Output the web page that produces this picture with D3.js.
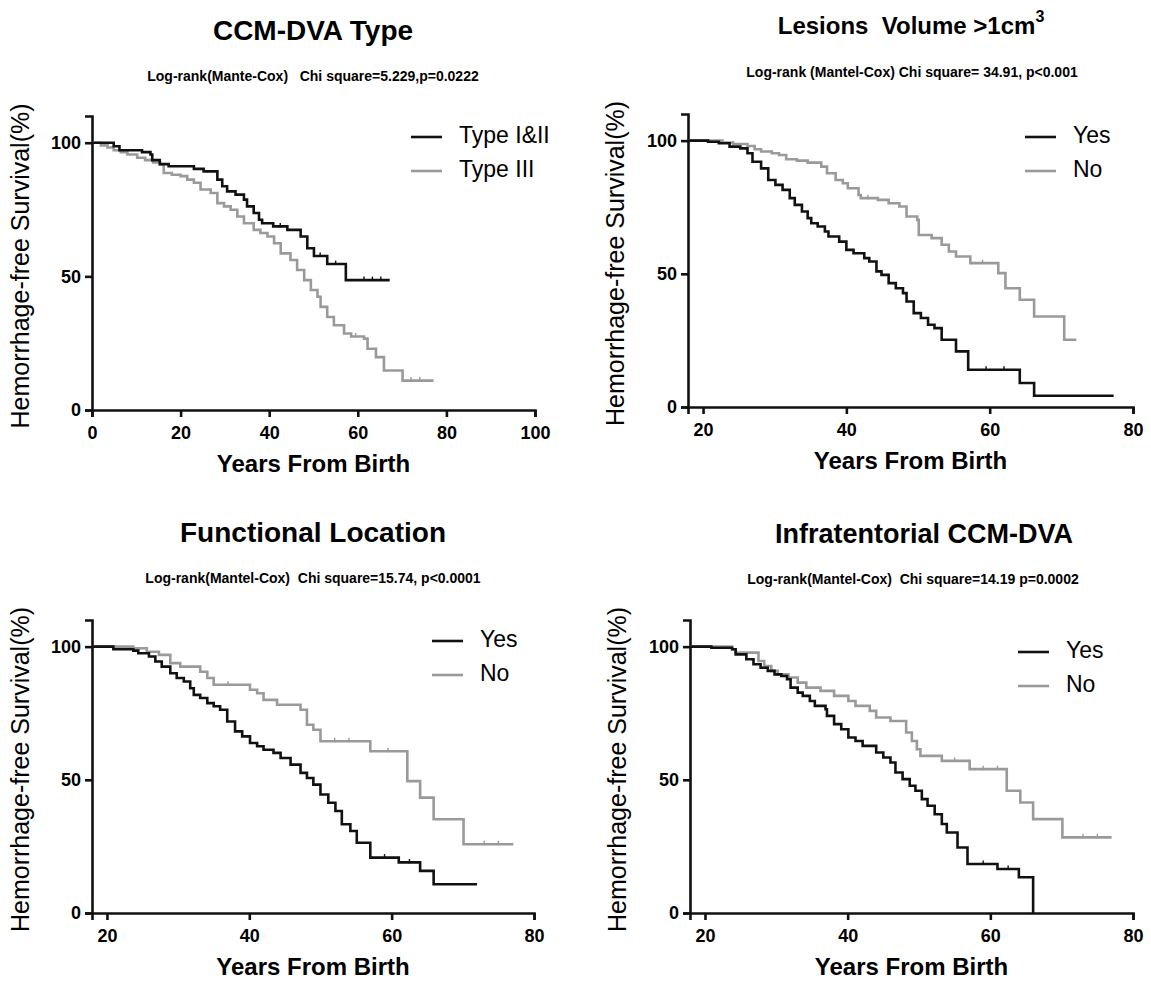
<!DOCTYPE html>
<html>
<head>
<meta charset="utf-8">
<script src="https://cdn.jsdelivr.net/npm/d3@7"></script>
<style>
  html, body { margin: 0; padding: 0; background: #fff; }
  svg { display: block; }
  text { font-family: "Liberation Sans", Arial, sans-serif; fill: #000; white-space: pre; }
</style>
</head>
<body>
<svg id="chart" width="1151" height="984"></svg>
<script>
// ---------------- DATA ----------------
// Each series: [years from birth, hemorrhage-free survival %] step points (last point = end of follow-up)
const p1Title = "CCM-DVA Type";
const p1Stat = "Log-rank(Mante-Cox)   Chi square=5.229,p=0.0222";
const p1Names = ["Type I&II", "Type III"];
const p1TypeI_II = [[0,100],[4.9,98.7],[6.2,97.2],[11.3,96.5],[13.2,95.6],[13.6,93.5],[15.3,92],[17.3,91.2],[23.0,90.2],[25.2,89.3],[28.3,86.2],[29.4,83.7],[30.5,81.8],[32.4,80.6],[34.3,78.7],[35.0,76.2],[36.5,73.7],[37.7,71.2],[38.4,69.9],[40.9,68.7],[44.1,67.4],[47.1,64.9],[48.6,60.5],[50.1,57.6],[53.1,54.6],[57.3,48.6],[67.2,48.6]];
const p1TypeIII = [[0,100],[2.0,99.0],[3.5,98.2],[4.9,97.2],[6.5,96.5],[8.0,95.6],[10.2,94.4],[12.0,93.5],[13.8,92.6],[15.4,91.9],[16.2,88.7],[18.0,88.0],[20.0,87.5],[21.5,86.2],[23.0,85.0],[24.5,82.5],[26.8,81.2],[28.3,77.4],[29.8,76.2],[31.3,74.9],[32.8,72.4],[34.3,69.9],[36.5,67.4],[38.0,66.2],[39.6,64.9],[41.1,62.4],[42.6,58.6],[44.8,56.1],[46.3,52.4],[47.9,48.6],[49.4,44.9],[50.9,42.4],[51.6,38.6],[53.1,34.8],[54.6,31.7],[56.9,28.6],[58.5,27.5],[61.4,26.7],[62.2,22.9],[64.1,19.8],[65.9,14.8],[70.1,11.0],[77.1,11.0]];
const p1TypeI_IICensor = [[42.5,68.7],[51.5,57.6],[55.0,54.6],[61.4,48.6],[63.3,48.6],[65.2,48.6]];
const p1TypeIIICensor = [[59.5,27.5],[72.0,11.0],[74.0,11.0]];

const p2Title = "Lesions  Volume >1cm";
const p2Stat = "Log-rank (Mantel-Cox) Chi square= 34.91, p<0.001";
const p2Names = ["Yes", "No"];
const p2Yes = [[17.9,100],[20.7,99.6],[22.2,99.0],[23.7,97.75],[25.2,97.1],[26.2,95.25],[26.9,92.1],[28.1,89.6],[29.1,85.25],[30.1,83.4],[31.1,81.5],[32.1,78.4],[32.8,75.9],[33.8,73.4],[34.6,70.9],[35.1,69.0],[36.0,67.75],[37.0,65.9],[37.5,64.0],[39.0,62.1],[40.0,59.0],[41.0,57.75],[42.5,55.9],[43.2,54.6],[44.2,50.9],[44.9,49.6],[45.9,46.5],[46.9,44.6],[47.9,42.75],[48.4,39.6],[49.4,35.25],[50.4,33.4],[51.4,30.9],[52.3,29.6],[53.3,25.25],[55.3,20.9],[57.0,14.0],[64.2,9.0],[66.2,4.25],[77.3,4.25]];
const p2No = [[17.9,100],[22.7,99.25],[24.2,98.75],[26.2,98.0],[27.2,96.75],[28.1,95.9],[29.6,95.25],[30.6,94.6],[31.6,93.0],[33.1,92.5],[34.6,91.75],[36.5,90.25],[37.3,87.75],[38.5,85.25],[39.5,84.0],[40.2,82.1],[41.7,79.6],[42.0,78.4],[44.4,77.75],[45.9,76.5],[47.4,75.25],[48.4,71.5],[49.9,70.25],[50.1,64.6],[51.9,63.4],[53.3,60.9],[54.3,58.4],[55.3,56.5],[57.3,54.0],[61.2,50.25],[62.2,44.6],[64.2,40.25],[66.2,34.0],[70.4,25.25],[72.1,25.25]];
const p2YesCensor = [[59.5,14.0],[62.0,14.0]];
const p2NoCensor = [[43.0,78.4],[59.0,54.0]];

const p3Title = "Functional Location";
const p3Stat = "Log-rank(Mantel-Cox)  Chi square=15.74, p<0.0001";
const p3Names = ["Yes", "No"];
const p3Yes = [[17.9,100],[20.9,99.0],[23.7,98.5],[24.4,97.5],[25.9,96.3],[26.8,94.4],[27.7,92.5],[28.9,90.0],[29.8,88.2],[30.8,86.9],[31.7,84.4],[32.2,81.9],[33.1,80.7],[34.1,78.8],[35.0,77.6],[35.9,76.3],[36.9,71.9],[38.0,68.2],[39.0,66.3],[40.1,63.8],[41.1,62.6],[42.0,61.3],[43.4,60.1],[44.4,58.2],[45.8,55.7],[47.2,52.6],[48.1,50.7],[49.0,48.2],[50.0,44.5],[51.1,41.4],[52.1,38.3],[53.0,33.3],[54.2,30.8],[55.1,26.4],[57.0,20.8],[61.0,19.0],[64.0,15.8],[65.9,10.8],[72.0,10.8]];
const p3No = [[17.9,100],[23.7,99.4],[25.6,98.1],[27.3,96.9],[28.9,93.8],[30.3,92.5],[33.1,90.6],[34.1,88.2],[35.0,85.7],[40.1,83.8],[41.1,82.5],[42.0,80.0],[43.9,78.2],[47.2,76.3],[48.1,70.7],[49.0,68.8],[50.0,64.5],[57.0,60.7],[62.2,49.5],[64.0,43.3],[65.9,35.2],[70.1,25.8],[77.1,25.8]];
const p3YesCensor = [[59.0,20.8],[62.5,19.0]];
const p3NoCensor = [[37.0,85.7],[52.0,64.5],[54.0,64.5],[59.5,60.7],[73.0,25.8],[75.0,25.8]];

const p4Title = "Infratentorial CCM-DVA";
const p4Stat = "Log-rank(Mantel-Cox)  Chi square=14.19 p=0.0002";
const p4Names = ["Yes", "No"];
const p4Yes = [[17.9,100],[20.9,99.6],[23.8,99.0],[24.3,97.1],[25.8,95.25],[26.8,93.4],[27.8,92.1],[28.8,90.9],[29.75,89.6],[30.7,89.0],[31.5,87.75],[32.0,84.6],[33.0,82.75],[33.7,81.5],[34.7,79.6],[35.4,77.75],[36.9,76.5],[37.1,74.0],[38.1,70.9],[39.1,69.0],[40.1,65.9],[41.1,64.6],[42.1,62.75],[44.0,60.25],[45.0,58.4],[46.0,56.5],[46.7,52.75],[47.7,50.25],[48.7,47.75],[49.5,45.9],[50.4,42.75],[51.2,40.25],[52.2,37.1],[53.2,33.4],[53.9,30.25],[55.4,24.6],[56.8,18.4],[61.0,16.5],[64.0,13.4],[66.0,0]];
const p4No = [[17.9,100],[23.8,99.0],[24.3,97.75],[27.5,94.6],[28.3,92.75],[29.3,90.9],[30.2,89.6],[31.7,88.4],[33.0,86.5],[34.2,84.6],[36.2,83.4],[38.1,81.5],[40.1,79.6],[41.1,77.75],[43.1,75.9],[44.0,73.4],[46.0,72.1],[48.2,67.75],[49.0,64.6],[49.7,61.5],[50.2,59.0],[53.2,57.1],[57.1,54.0],[62.3,45.9],[64.2,41.5],[66.0,35.25],[70.1,28.4],[77.0,28.4]];
const p4YesCensor = [[59.0,18.4],[62.5,16.5]];
const p4NoCensor = [[55.0,57.1],[59.0,54.0],[61.0,54.0],[73.0,28.4],[75.0,28.4]];

const yTickValues = [0, 50, 100];
const xTicksWide = [0, 20, 40, 60, 80, 100];
const xTicksAge = [20, 40, 60, 80];
const yLabel = "Hemorrhage-free Survival(%)";
const xLabel = "Years From Birth";

// ---------------- DRAW ----------------
const svg = d3.select("#chart");
const BLACK = "#111111", GRAY = "#9a9a9a";
const FONT = '"Liberation Sans", Arial, sans-serif';

const panels = [
  { title: p1Title, sup: null, titleSize: 28, titleX: 313, stat: p1Stat, names: p1Names, series: [p1TypeI_II, p1TypeIII],
    censor: [p1TypeI_IICensor, p1TypeIIICensor],
    xDomain: [0, 100], xTicks: xTicksWide,
    left: 92, right: 535, bottom: 410, top: 116, titleY: 33, statY: 77, legX: 411, legY: 137, cx: 313, xLabY: 466, yLabX: 22 },
  { title: p2Title, sup: "3", titleSize: 24, titleX: 911, stat: p2Stat, names: p2Names, series: [p2Yes, p2No],
    censor: [p2YesCensor, p2NoCensor],
    xDomain: [17.9, 80], xTicks: xTicksAge,
    left: 688, right: 1133, bottom: 407, top: 114, titleY: 28, statY: 73, legX: 1025, legY: 137, cx: 912, xLabY: 463, yLabX: 617 },
  { title: p3Title, sup: null, titleSize: 28, titleX: 313, stat: p3Stat, names: p3Names, series: [p3Yes, p3No],
    censor: [p3YesCensor, p3NoCensor],
    xDomain: [17.9, 80], xTicks: xTicksAge,
    left: 92, right: 534, bottom: 913, top: 620, titleY: 535, statY: 579, legX: 432, legY: 641, cx: 313, xLabY: 969, yLabX: 22 },
  { title: p4Title, sup: null, titleSize: 27, titleX: 924, stat: p4Stat, names: p4Names, series: [p4Yes, p4No],
    censor: [p4YesCensor, p4NoCensor],
    xDomain: [17.9, 80], xTicks: xTicksAge,
    left: 690, right: 1133, bottom: 913, top: 620, titleY: 536, statY: 580, legX: 1018, legY: 652, cx: 913, xLabY: 969, yLabX: 619 }
];

panels.forEach(p => {
  const g = svg.append("g");
  const x = d3.scaleLinear().domain(p.xDomain).range([p.left, p.right]);
  const y = d3.scaleLinear().domain([0, 110]).range([p.bottom, p.top]);

  // title
  const t = g.append("text").attr("x", p.titleX).attr("y", p.titleY).attr("text-anchor", "middle")
    .attr("dominant-baseline", "middle").style("font-size", p.titleSize + "px").style("font-weight", "bold").text(p.title);
  if (p.sup) t.append("tspan").attr("dy", -10).style("font-size", "16px").text(p.sup);

  g.append("text").attr("x", p.cx).attr("y", p.statY).attr("text-anchor", "middle")
    .attr("dominant-baseline", "middle").style("font-size", "14px").style("font-weight", "bold").text(p.stat);

  // y label
  g.append("text").attr("transform", `translate(${p.yLabX},${(p.top + p.bottom) / 2 + 3}) rotate(-90)`)
    .attr("text-anchor", "middle").attr("dominant-baseline", "middle")
    .style("font-size", "25px").text(yLabel);

  // x label
  g.append("text").attr("x", (p.left + p.right) / 2).attr("y", p.xLabY).attr("text-anchor", "middle")
    .attr("dominant-baseline", "middle").style("font-size", "24px").style("font-weight", "bold").text(xLabel);

  // axes
  const ya = g.append("g").attr("transform", `translate(${p.left},0)`)
    .call(d3.axisLeft(y).tickValues(yTickValues).tickSizeOuter(0).tickSize(7).tickPadding(4));
  const xa = g.append("g").attr("transform", `translate(0,${p.bottom})`)
    .call(d3.axisBottom(x).tickValues(p.xTicks).tickSizeOuter(0).tickSize(7).tickPadding(9));
  [ya, xa].forEach(a => {
    a.select(".domain").attr("stroke", BLACK).attr("stroke-width", 2.6);
    a.selectAll(".tick line").attr("stroke", BLACK).attr("stroke-width", 2.6);
    a.selectAll(".tick text").style("font-size", "18px").style("font-weight", "bold")
      .style("font-family", FONT).attr("fill", "#000");
  });

  // curves
  const line = d3.line().x(d => x(d[0])).y(d => y(d[1])).curve(d3.curveStepAfter);
  const colors = [BLACK, GRAY];
  [1, 0].forEach(i => {
    g.append("path").datum(p.series[i]).attr("d", line).attr("fill", "none")
      .attr("stroke", colors[i]).attr("stroke-width", 2.6);
    g.selectAll(null).data(p.censor[i]).enter().append("line")
      .attr("x1", d => x(d[0])).attr("x2", d => x(d[0]))
      .attr("y1", d => y(d[1]) - 3.5).attr("y2", d => y(d[1]) + 1)
      .attr("stroke", colors[i]).attr("stroke-width", 1.4);
  });

  // legend
  p.names.forEach((n, i) => {
    const ly = p.legY + i * 34;
    g.append("line").attr("x1", p.legX).attr("x2", p.legX + 31).attr("y1", ly).attr("y2", ly)
      .attr("stroke", colors[i]).attr("stroke-width", 2.6);
    g.append("text").attr("x", p.legX + 48).attr("y", ly).attr("dominant-baseline", "middle")
      .style("font-size", "23px").text(n);
  });
});
</script>
</body>
</html>
